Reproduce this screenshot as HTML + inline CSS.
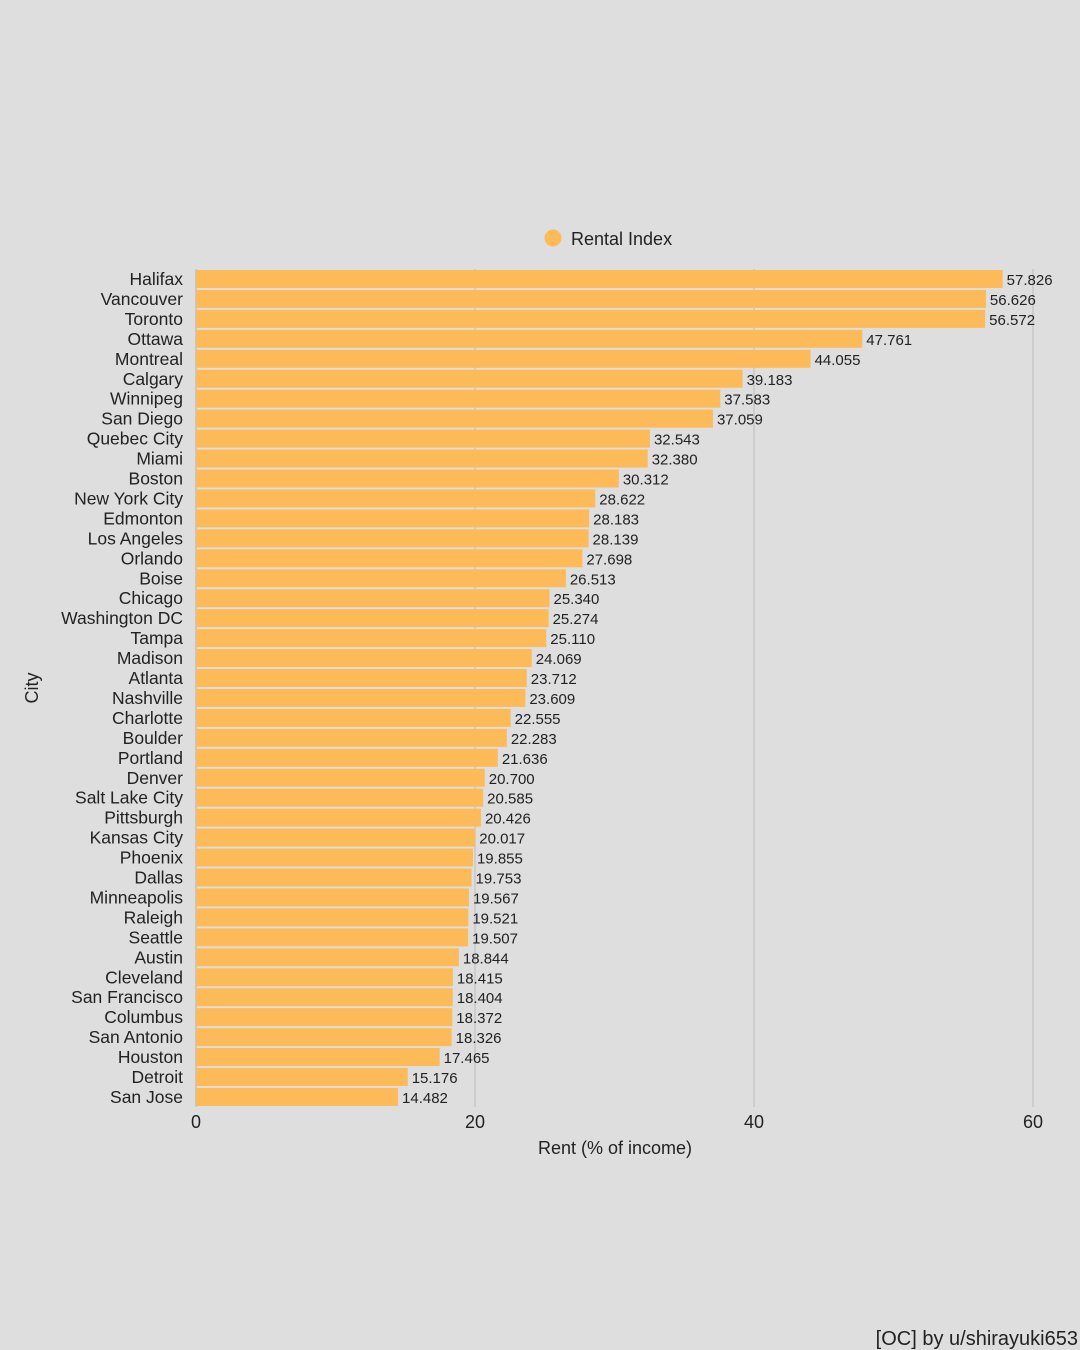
<!DOCTYPE html>
<html><head><meta charset="utf-8"><style>
html,body{margin:0;padding:0;background:#dedede;}
svg{display:block;font-family:"Liberation Sans",sans-serif;}
</style></head><body>
<svg id="chart" width="1080" height="1350" viewBox="0 0 1080 1350">
<rect width="1080" height="1350" fill="#dedede"/>
<g id="grid"></g>
<g id="bars"></g>
<g id="labels"></g>
<g>
<circle cx="553" cy="238" r="8.5" fill="#fdba58"/>
<text x="571" y="245" font-size="18" fill="#222">Rental Index</text>
</g>
<text x="615" y="1154" font-size="18" fill="#222" text-anchor="middle">Rent (% of income)</text>
<text transform="translate(38,688) rotate(-90)" font-size="18" fill="#222" text-anchor="middle">City</text>
<text x="1078" y="1345" font-size="20" fill="#222" text-anchor="end">[OC] by u/shirayuki653</text>
</svg>
<script>
const cities=["Halifax","Vancouver","Toronto","Ottawa","Montreal","Calgary","Winnipeg","San Diego","Quebec City","Miami","Boston","New York City","Edmonton","Los Angeles","Orlando","Boise","Chicago","Washington DC","Tampa","Madison","Atlanta","Nashville","Charlotte","Boulder","Portland","Denver","Salt Lake City","Pittsburgh","Kansas City","Phoenix","Dallas","Minneapolis","Raleigh","Seattle","Austin","Cleveland","San Francisco","Columbus","San Antonio","Houston","Detroit","San Jose"];
const values=[57.826,56.626,56.572,47.761,44.055,39.183,37.583,37.059,32.543,32.380,30.312,28.622,28.183,28.139,27.698,26.513,25.340,25.274,25.110,24.069,23.712,23.609,22.555,22.283,21.636,20.700,20.585,20.426,20.017,19.855,19.753,19.567,19.521,19.507,18.844,18.415,18.404,18.372,18.326,17.465,15.176,14.482];
const xTicks=[0,20,40,60];
const NS="http://www.w3.org/2000/svg";
const x0=196,x60=1033,plotTop=269,pitch=19.95,bh=18;
const xs=v=>x0+(x60-x0)*v/60;
const ys=i=>plotTop+i*pitch;
function mk(t,a,p){const e=document.createElementNS(NS,t);for(const k in a)e.setAttribute(k,a[k]);p.appendChild(e);return e;}
const g=document.getElementById('grid'),b=document.getElementById('bars'),l=document.getElementById('labels');
xTicks.forEach(t=>{
 const ln=mk('line',{x1:xs(t),x2:xs(t),y1:plotTop,y2:1107,stroke:t===0?'#bbb':'#c4c4c4','stroke-width':1.3},g);
 
 
 const tx=mk('text',{x:xs(t),y:1128,'font-size':18,fill:'#222','text-anchor':'middle'},l);
 tx.textContent=t;
 
 
});
cities.forEach((c,i)=>{
 const r=mk('rect',{x:x0,y:ys(i)+1,width:xs(values[i])-x0,height:bh,fill:'#fdba58'},b);
 
 
 const ct=mk('text',{x:183,y:ys(i)+16,'font-size':17.5,fill:'#222','text-anchor':'end'},l);
 ct.textContent=c;
 
 
 const vt=mk('text',{x:xs(values[i])+4,y:ys(i)+16,'font-size':15,fill:'#222'},l);
 vt.textContent=values[i].toFixed(3);
 
 
});
</script>
</body></html>
